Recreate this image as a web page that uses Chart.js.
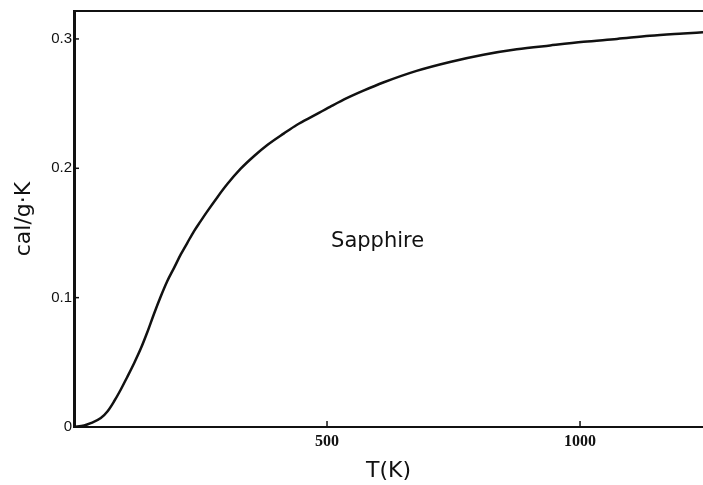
<!DOCTYPE html>
<html>
<head>
<meta charset="utf-8">
<script src="https://cdn.jsdelivr.net/npm/chart.js@4/dist/chart.umd.min.js"></script>
<style>
  html, body { margin: 0; padding: 0; background: #fff; }
  #wrap { width: 703px; height: 485px; }
</style>
</head>
<body>
<div id="wrap"><canvas id="heat-chart" width="703" height="485"></canvas></div>
<script>
// specific heat of sapphire
const temps = [0, 20, 33, 53, 66, 79, 92, 105, 119, 132, 145, 158, 171, 184, 198, 211, 224, 237, 250, 263, 283, 303, 329, 356, 382, 415, 440, 473, 506, 539, 572, 611, 677, 743, 809, 875, 941, 1007, 1073, 1138, 1204, 1243];
const heat = [0, 0.0012, 0.003, 0.0069, 0.012, 0.0197, 0.0286, 0.0385, 0.0495, 0.0606, 0.0734, 0.0874, 0.1005, 0.1125, 0.1232, 0.1334, 0.1424, 0.1513, 0.159, 0.1665, 0.1775, 0.1878, 0.1995, 0.2095, 0.218, 0.227, 0.2335, 0.2405, 0.2475, 0.2542, 0.26, 0.2663, 0.2753, 0.2822, 0.2878, 0.292, 0.295, 0.2978, 0.3, 0.3024, 0.3042, 0.3052];
const xTicks = [500, 1000];
const yTicks = [0, 0.1, 0.2, 0.3];
const yTickLabels = ['0', '0.1', '0.2', '0.3'];

const ink = '#111';

const points = temps.map((t, i) => ({ x: t, y: heat[i] }));

// top frame line, small inside ticks and the "Sapphire" label
const decorations = {
    id: 'decorations',
    afterDraw(chart) {
        const ctx = chart.ctx;
        const area = chart.chartArea;
        const xs = chart.scales.x;
        const ys = chart.scales.y;
        ctx.save();
        ctx.strokeStyle = ink;
        ctx.lineWidth = 2;
        ctx.beginPath();
        ctx.moveTo(area.left, area.top);
        ctx.lineTo(area.right, area.top);
        ctx.stroke();

        ctx.lineWidth = 1.5;
        yTicks.forEach(v => {
            if (v === 0) return;
            const py = ys.getPixelForValue(v);
            ctx.beginPath();
            ctx.moveTo(area.left, py);
            ctx.lineTo(area.left + 5, py);
            ctx.stroke();
        });
        xTicks.forEach(v => {
            const px = xs.getPixelForValue(v);
            ctx.beginPath();
            ctx.moveTo(px, area.bottom);
            ctx.lineTo(px, area.bottom - 6);
            ctx.stroke();
        });

        ctx.fillStyle = ink;
        ctx.font = '21px "DejaVu Sans"';
        ctx.textAlign = 'center';
        ctx.textBaseline = 'middle';
        ctx.fillText('Sapphire', xs.getPixelForValue(600), ys.getPixelForValue(0.143));
        ctx.restore();
    }
};

new Chart(document.getElementById('heat-chart'), {
    type: 'line',
    data: {
        datasets: [{
            data: points,
            borderColor: ink,
            borderWidth: 2.5,
            pointRadius: 0,
            fill: false,
            cubicInterpolationMode: 'monotone'
        }]
    },
    options: {
        responsive: false,
        animation: false,
        layout: { padding: { top: 10, right: 0, left: 0, bottom: 0 } },
        plugins: {
            legend: { display: false },
            tooltip: { enabled: false }
        },
        scales: {
            x: {
                type: 'linear',
                min: 0,
                max: 1243,
                afterBuildTicks: s => { s.ticks = xTicks.map(v => ({ value: v })); },
                afterFit: s => { s.height = 58; },
                ticks: {
                    color: ink,
                    padding: 5,
                    maxRotation: 0,
                    font: { family: '"Liberation Serif"', size: 16, weight: 'bold' },
                    callback: v => String(v)
                },
                grid: { display: false, drawTicks: false },
                border: { color: ink, width: 2 },
                title: {
                    display: true,
                    text: 'T(K)',
                    color: ink,
                    font: { family: '"DejaVu Sans"', size: 22 },
                    padding: { top: 0, bottom: 1 }
                }
            },
            y: {
                min: 0,
                max: 0.3216,
                afterBuildTicks: s => { s.ticks = yTicks.map(v => ({ value: v })); },
                afterFit: s => { s.width = 74; },
                ticks: {
                    color: ink,
                    padding: 2,
                    font: { family: '"Liberation Sans"', size: 15 },
                    callback: (v, i) => yTickLabels[i]
                },
                grid: { display: false, drawTicks: false },
                border: { color: ink, width: 3 },
                title: {
                    display: true,
                    text: 'cal/g·K',
                    color: ink,
                    font: { family: '"DejaVu Sans"', size: 22 },
                    padding: { top: 11, bottom: 0 }
                }
            }
        }
    },
    plugins: [decorations]
});
</script>
</body>
</html>
